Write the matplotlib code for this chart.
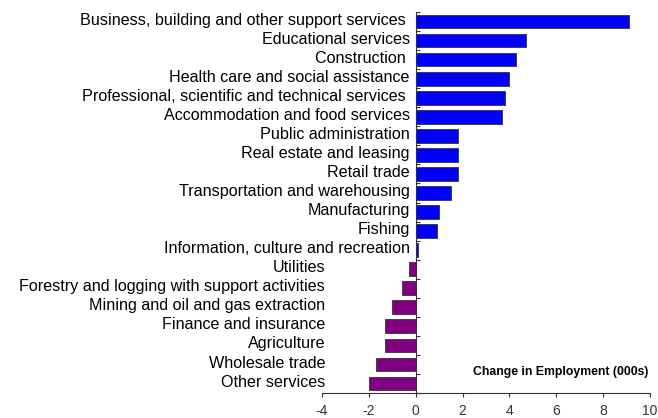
import matplotlib
matplotlib.use("Agg")
import matplotlib.pyplot as plt
import numpy as np

plt.rcParams['font.family'] = ['Liberation Sans', 'DejaVu Sans']

industries = [
    "Business, building and other support services ",
    "Educational services",
    "Construction ",
    "Health care and social assistance",
    "Professional, scientific and technical services ",
    "Accommodation and food services",
    "Public administration",
    "Real estate and leasing",
    "Retail trade",
    "Transportation and warehousing",
    "Manufacturing",
    "Fishing",
    "Information, culture and recreation",
    "Utilities",
    "Forestry and logging with support activities",
    "Mining and oil and gas extraction",
    "Finance and insurance",
    "Agriculture",
    "Wholesale trade",
    "Other services",
]
change = [9.1, 4.7, 4.3, 4.0, 3.8, 3.7, 1.8, 1.8, 1.8, 1.5, 1.0, 0.9, 0.1,
          -0.3, -0.6, -1.0, -1.3, -1.3, -1.7, -2.0]
x_ticks = [-4, -2, 0, 2, 4, 6, 8, 10]

fig = plt.figure(figsize=(6.58, 4.18), dpi=100)
ax = fig.add_axes([0.4894, 0.0598, 0.4984, 0.9115])

n = len(industries)
ypos = np.arange(n)
colors = ['#0000FF' if v >= 0 else '#800080' for v in change]
ax.barh(ypos, change, height=0.72, color=colors, edgecolor='#333333', linewidth=0.6, zorder=2)

ax.set_xlim(-4, 10)
ax.set_ylim(n - 0.5, -0.5)

# category labels: positives beside the zero line, negatives at the left edge
for y, (name, v) in enumerate(zip(industries, change)):
    if v >= 0:
        ax.annotate(name, xy=(0, y), xytext=(-4.3, 1), textcoords='offset points',
                    ha='right', va='center', fontsize=11.6)
    else:
        ax.annotate(name, xy=(-4, y), xytext=(2.2, 1), textcoords='offset points',
                    ha='right', va='center', fontsize=11.6)

for side in ('top', 'right'):
    ax.spines[side].set_visible(False)
ax.spines['left'].set_position(('data', 0))
ax.spines['left'].set_color('#333333')
ax.spines['bottom'].set_color('#333333')

ax.set_yticks(np.arange(-0.5, n, 1.0))
ax.set_yticklabels([])
ax.tick_params(axis='y', direction='in', length=3, color='#333333')

ax.set_xticks(x_ticks)
ax.set_xticklabels([str(t) for t in x_ticks])
ax.tick_params(axis='x', direction='out', length=3, color='#333333',
               labelsize=10, labelcolor='#333333', pad=5)

ax.text(0.995, 0.055, "Change in Employment (000s)", transform=ax.transAxes,
        ha='right', va='center', fontsize=8.8, fontweight='bold')

fig.savefig("out.png", dpi=100)
